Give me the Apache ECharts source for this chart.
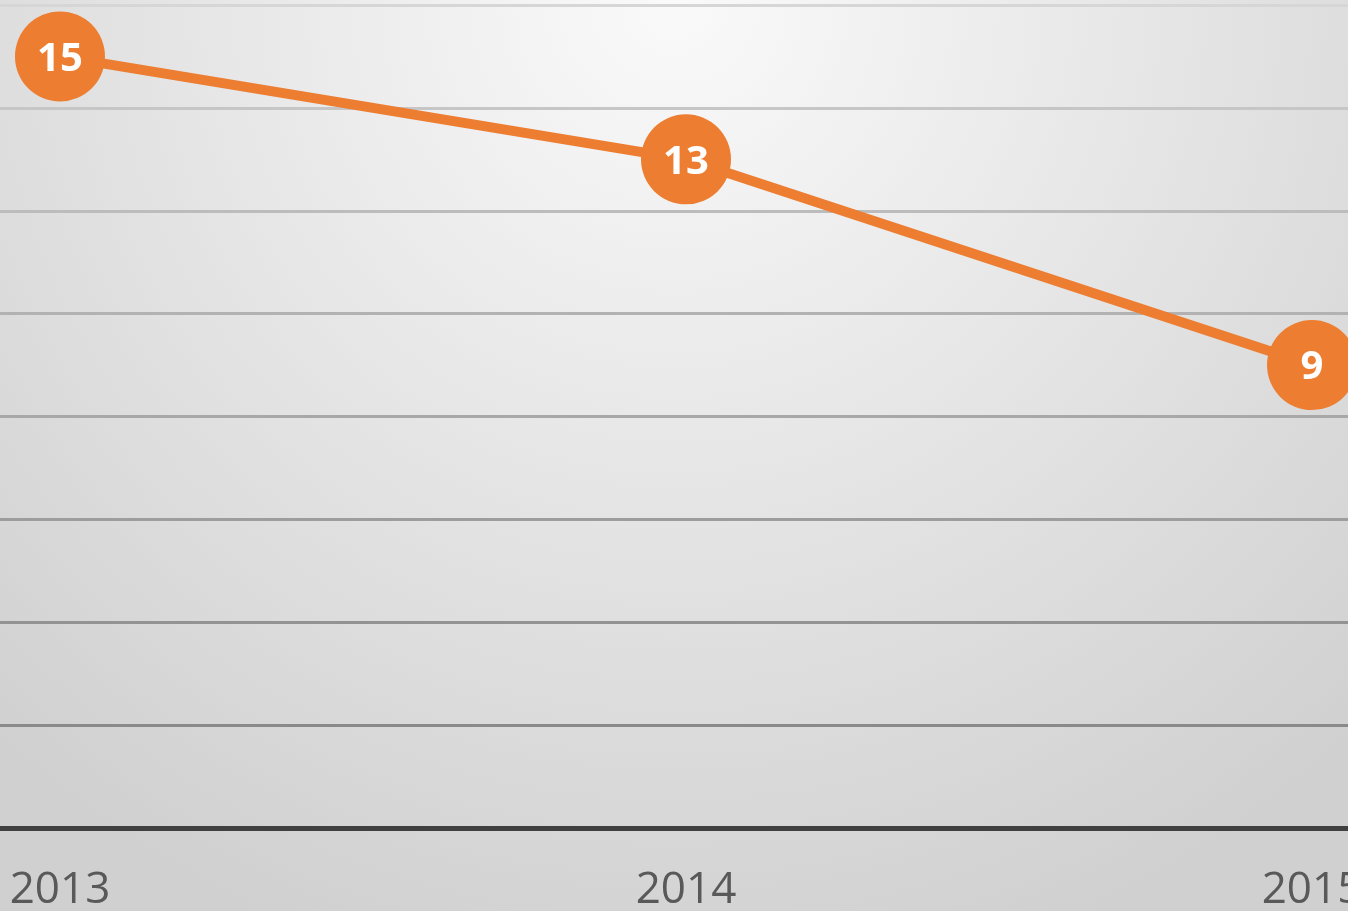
<!DOCTYPE html>
<html>
<head>
<meta charset="utf-8">
<script src="https://cdn.jsdelivr.net/npm/echarts@6/dist/echarts.min.js"></script>
<style>html,body{margin:0;padding:0;}#c{width:1348px;height:911px;}</style>
</head>
<body>
<div id="c"></div>
<script>
var categories = ['2013', '2014', '2015'];
var values = [15, 13, 9];
var yMin = 0, yMax = 16, yStep = 2;

var points = values.map(function (v, i) { return [i, v]; });
var catIdx = categories.map(function (c, i) { return i; });

var chart = echarts.init(document.getElementById('c'), null, {renderer: 'canvas'});
chart.setOption({
  backgroundColor: {
    type: 'radial', x: 0.5, y: 0.0, r: 1.1,
    colorStops: [{offset: 0, color: '#fafafa'}, {offset: 1, color: '#d0d0d0'}]
  },
  grid: {left: 0, right: 0, top: 5, bottom: 83, containLabel: false, outerBoundsMode: 'none'},
  xAxis: {
    type: 'value', min: -0.0958, max: 2.0575,
    splitLine: {show: false},
    axisLine: {show: true, onZero: false, lineStyle: {color: '#404040', width: 5}},
    axisTick: {show: false},
    axisLabel: {
      color: '#595959', fontSize: 44, fontFamily: 'Open Sans', margin: 40,
      customValues: catIdx,
      formatter: function (v) { return categories[Math.round(v)]; }
    }
  },
  yAxis: {
    type: 'value', min: yMin, max: yMax, interval: yStep,
    axisLine: {show: false}, axisTick: {show: false}, axisLabel: {show: false},
    splitLine: {show: true, lineStyle: {width: 3, color: ['#404040', '#8a8a8a', '#939393', '#9d9d9d', '#a8a8a8', '#b2b2b2', '#bcbcbc', '#c6c6c6', '#d6d6d6']}}
  },
  series: [{
    type: 'line', data: points,
    symbol: 'circle', symbolSize: 90,
    lineStyle: {color: '#ED7D31', width: 10},
    itemStyle: {color: '#ED7D31'},
    label: {show: true, position: 'inside', offset: [0, 3], color: '#ffffff', fontSize: 40, fontWeight: 'bold', fontFamily: 'Open Sans',
      formatter: function (p) { return p.value[1]; }},
    clip: false,
    animation: false
  }]
});
</script>
</body>
</html>
